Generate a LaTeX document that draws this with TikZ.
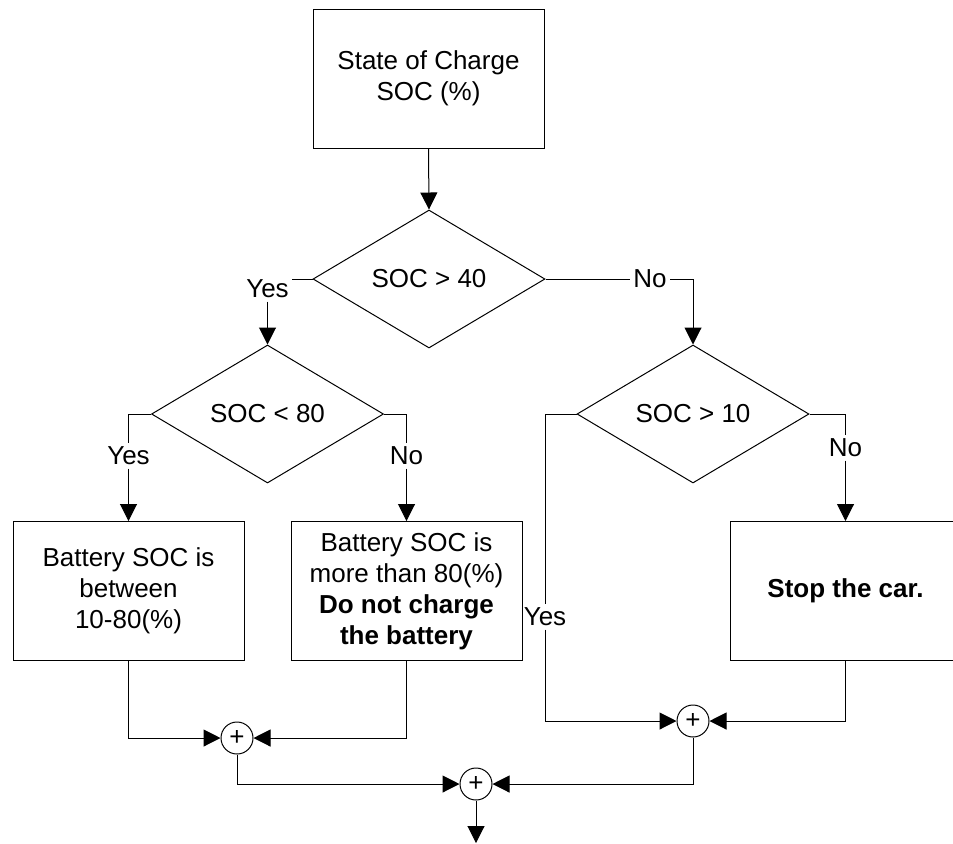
\documentclass[tikz,border=0pt]{standalone}
\usepackage{fontspec}
\setmainfont{Liberation Sans}
\usetikzlibrary{positioning,arrows.meta,shapes.geometric,calc}

\begin{document}
\begin{tikzpicture}[
          x=0.5pt, y=-0.5pt,
          line width=0.5pt,
          font=\fontsize{13}{15.5}\selectfont,
          box/.style={draw, minimum width=115.5pt, minimum height=69.5pt, align=center, inner sep=0pt},
          dec/.style={draw, diamond, minimum width=116pt, minimum height=69pt, inner sep=0pt},
          sum/.style={draw, circle, minimum size=16pt, inner sep=0pt},
          lbl/.style={inner sep=1.5pt},
          arr/.style={-{Triangle[length=8.5pt,width=8.5pt]}}
      ]
        \useasboundingbox (0,0) rectangle (953,843);
        \node[box] (soc) at (428.5,78.5) {State of Charge\\SOC (\%)};
        \node[dec] (d1) at (429,279) {SOC > 40};
        \node[dec] (d2) at (267.5,414) {SOC < 80};
        \node[dec] (d3) at (693,414) {SOC > 10};
        \node[box] (b1) at (128.5,591) {Battery SOC is\\between\\10-80(\%)};
        \node[box] (b2) at (406.5,591) {Battery SOC is\\more than 80(\%)\\\textbf{Do not charge}\\\textbf{the battery}};
        \node[box] (b3) at (845.5,591) {\textbf{Stop the car.}};
        \node[sum] (s1) at (237,738) {+};
        \node[sum] (s3) at (693,721) {+};
        \node[sum] (s2) at (476,784) {+};
        \node[lbl] (y1) at (267.5,289) {Yes};
        \node[lbl] (n1) at (650,279) {No};
        \node[lbl] (y2) at (128.5,456) {Yes};
        \node[lbl] (n2) at (406.5,456) {No};
        \node[lbl] (n3) at (845.5,448) {No};
        \node[lbl] (y3) at (545,617) {Yes};
        \coordinate (out) at (476,843);
        \draw[arr] (soc.south) -- (d1.north);
        \draw (d1.west) -- (d1.west -| y1.east);
        \draw[arr] (y1.south) -- (d2.north);
        \draw (d1.east) -- (n1.west);
        \draw[arr] (n1.east) -| (d3.north);
        \draw (d2.west) -| (y2.north);
        \draw[arr] (y2.south) -- (b1.north);
        \draw (d2.east) -| (n2.north);
        \draw[arr] (n2.south) -- (b2.north);
        \draw (d3.east) -| (n3.north);
        \draw[arr] (n3.south) -- (b3.north);
        \draw (d3.west) -| (y3.north);
        \draw[arr] (y3.south) |- (s3.west);
        \draw[arr] (b1.south) |- (s1.west);
        \draw[arr] (b2.south) |- (s1.east);
        \draw[arr] (b3.south) |- (s3.east);
        \draw[arr] (s1.south) |- (s2.west);
        \draw[arr] (s3.south) |- (s2.east);
        \draw[arr] (s2.south) -- (out);
      \end{tikzpicture}
\end{document}
